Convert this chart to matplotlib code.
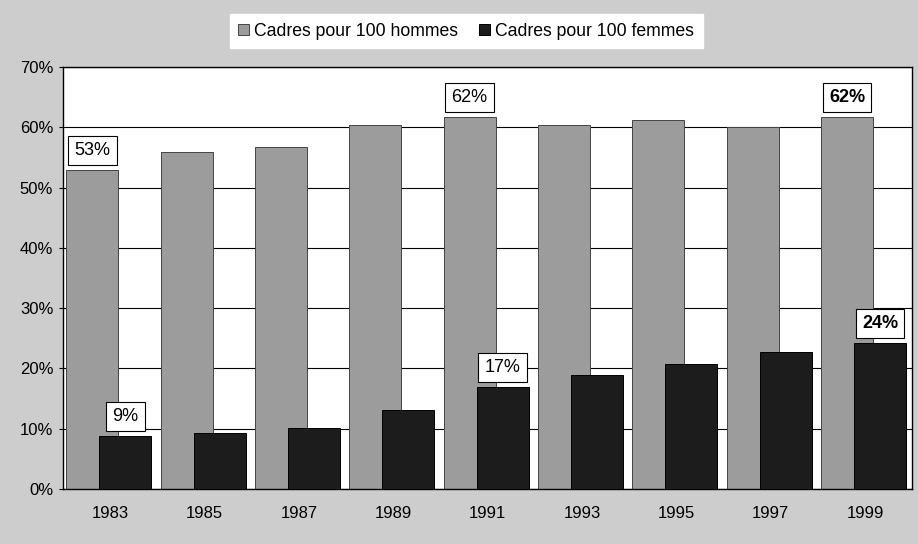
import matplotlib.pyplot as plt
import matplotlib
import numpy as np

matplotlib.rc('font', family=['Liberation Sans', 'DejaVu Sans'], size=12)

years = ["1983", "1985", "1987", "1989", "1991", "1993", "1995", "1997", "1999"]
hommes = [52.9, 55.9, 56.7, 60.4, 61.7, 60.4, 61.2, 60.0, 61.7]
femmes = [8.8, 9.3, 10.1, 13.1, 16.9, 18.9, 20.7, 22.7, 24.2]
yticks = [0, 10, 20, 30, 40, 50, 60, 70]

# labelled points: (series, index, text, bold)
labels = [
    ("h", 0, "53%", False),
    ("f", 0, "9%", False),
    ("h", 4, "62%", False),
    ("f", 4, "17%", False),
    ("h", 8, "62%", True),
    ("f", 8, "24%", True),
]

if __name__ == "__main__":
    fig = plt.figure(figsize=(9.18, 5.44), dpi=100, facecolor="#cdcdcd")
    ax = fig.add_axes([0.0686, 0.101, 0.925, 0.776])
    x = np.arange(len(years))
    w = 0.55
    bh = ax.bar(x - 0.19, hommes, w, color="#9c9c9c", edgecolor="#444444", linewidth=0.7,
                label="Cadres pour 100 hommes", zorder=2)
    bf = ax.bar(x + 0.16, femmes, w, color="#1c1c1c", edgecolor="#000000", linewidth=0.7,
                label="Cadres pour 100 femmes", zorder=3)

    ax.set_xlim(-0.5, len(years) - 0.5)
    ax.set_ylim(0, 70)
    ax.set_yticks(yticks)
    ax.set_yticklabels(["%d%%" % v for v in yticks])
    ax.set_xticks(x)
    ax.set_xticklabels(years)
    ax.tick_params(axis="x", length=0, pad=12)
    ax.tick_params(axis="y", length=3, pad=4)
    ax.grid(axis="y", color="black", linewidth=0.8, zorder=1)
    for s in ax.spines.values():
        s.set_linewidth(1.0)
        s.set_color("black")

    for ser, i, txt, bold in labels:
        if ser == "h":
            xx, yy = x[i] - 0.19, hommes[i]
        else:
            xx, yy = x[i] + 0.16, femmes[i]
        ax.annotate(txt, (xx, yy), xytext=(0, 8), textcoords="offset points",
                    ha="center", va="bottom", fontsize=13,
                    fontweight="bold" if bold else "normal", zorder=5,
                    bbox=dict(boxstyle="square,pad=0.35", fc="white", ec="black", lw=0.8))

    fig.legend(handles=[bh, bf], loc="center", bbox_to_anchor=(0.508, 0.943), ncol=2,
               fontsize=12.7, frameon=True, fancybox=False, edgecolor="white",
               facecolor="white", framealpha=1.0, handlelength=0.6, handleheight=0.6,
               handletextpad=0.3, columnspacing=1.2, borderpad=0.5, borderaxespad=0)

    plt.savefig("out.png", dpi=100, facecolor=fig.get_facecolor())
